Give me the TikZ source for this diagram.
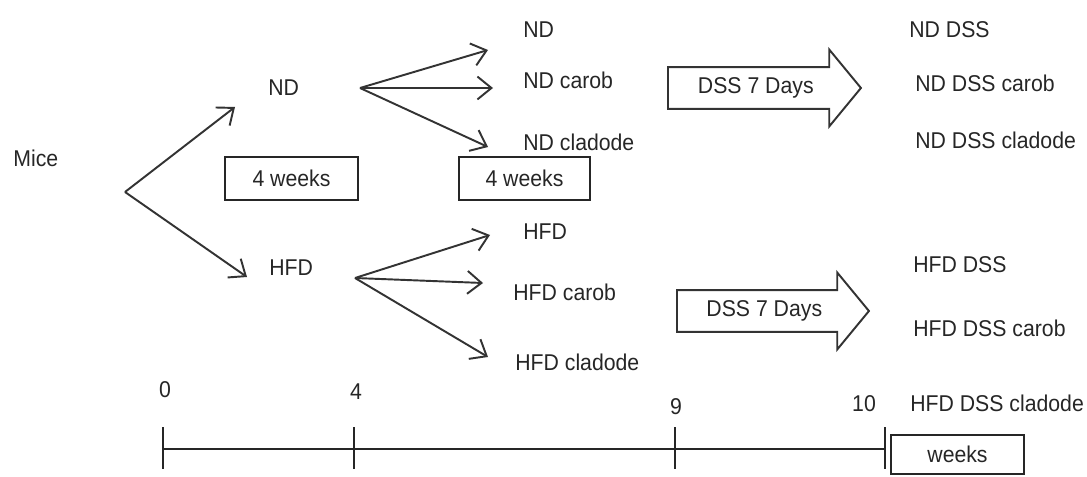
\documentclass[tikz,border=0pt]{standalone}
\usepackage{fontspec}
\setmainfont{Liberation Sans}[FakeStretch=0.93]
\usetikzlibrary{positioning,arrows.meta,shapes.arrows}

\begin{document}
\begin{tikzpicture}[x=0.02cm,y=-0.02cm,
	>={Straight Barb[length=8pt,width=13pt]},
	every node/.style={font=\fontsize{13}{15}\selectfont,text=black!85},
	lbl/.style={anchor=west,inner sep=0pt},
	wkbox/.style={draw=black!85,line width=1.1pt,inner sep=0pt},
	dssarrow/.style={single arrow,draw=black!80,line width=1.1pt,anchor=tail,
		single arrow head extend=0.35cm,single arrow tip angle=101,
		text height=0.33cm,text depth=0.1cm,inner ysep=0.185cm,inner xsep=0pt},
	link/.style={->,line width=1.1pt,draw=black!80}]
	\useasboundingbox (0,0) rectangle (1087,476);

	% groups
	\node[lbl] (mice) at (13,158) {Mice};
	\node[lbl] (nd)   at (268,88) {ND};
	\node[lbl] (hfd)  at (269,268) {HFD};

	\node[lbl] (ndnd)     at (523,30)  {ND};
	\node[lbl] (ndcarob)  at (523,80)  {ND carob};
	\node[lbl] (ndclad)   at (523,142) {ND cladode};
	\node[lbl] (hfdhfd)   at (523,232) {HFD};
	\node[lbl] (hfdcarob) at (513,292) {HFD carob};
	\node[lbl] (hfdclad)  at (515,362) {HFD cladode};

	\node[lbl] (nddss)      at (909,30)  {ND DSS};
	\node[lbl] (nddsscarob) at (915,83)  {ND DSS carob};
	\node[lbl] (nddssclad)  at (915,140) {ND DSS cladode};
	\node[lbl] (hfddss)      at (913,265) {HFD DSS};
	\node[lbl] (hfddsscarob) at (913,328) {HFD DSS carob};
	\node[lbl] (hfddssclad)  at (910,403) {HFD DSS cladode};

	% durations
	\node[wkbox,minimum width=2.66cm,minimum height=0.86cm] (wkA) at (291.5,178.5) {4 weeks};
	\node[wkbox,minimum width=2.62cm,minimum height=0.86cm] (wkB) at (524.5,178.5) {4 weeks};
	\node[dssarrow,minimum height=3.86cm] (dssA) at (667,88)  {DSS 7 Days};
	\node[dssarrow,minimum height=3.84cm] (dssB) at (676,311) {DSS 7 Days};

	% branching
	\coordinate (fork)   at (125,192);
	\coordinate (toND)   at (235,107);
	\coordinate (toHFD)  at (247,277);
	\coordinate (forkND) at (360,88);
	\coordinate (toNDa)  at (488,50);
	\coordinate (toNDb)  at (493,88);
	\coordinate (toNDc)  at (488,147);
	\coordinate (forkHFD) at (355,278);
	\coordinate (toHFDa) at (490,235);
	\coordinate (toHFDb) at (483,283);
	\coordinate (toHFDc) at (488,357);

	\draw[link] (fork) -- (toND);
	\draw[link] (fork) -- (toHFD);
	\draw[link] (forkND) -- (toNDa);
	\draw[link] (forkND) -- (toNDb);
	\draw[link] (forkND) -- (toNDc);
	\draw[link] (forkHFD) -- (toHFDa);
	\draw[link] (forkHFD) -- (toHFDb);
	\draw[link] (forkHFD) -- (toHFDc);

	% time axis
	\coordinate (t0)  at (163,449);
	\coordinate (t10) at (885,449);
	\draw[line width=1.3pt,black!85] (t0) -- (t10);
	\foreach \x/\lx/\ly/\wk in {163/165/390/0, 354/356/392/4, 675/676/407/9, 885/864/404/10}{
		\draw[line width=1.1pt,black!85] (\x,427) -- (\x,469);
		\node[inner sep=0pt] (wk\wk) at (\lx,\ly) {\wk};
	}
	\node[wkbox,minimum width=2.66cm,minimum height=0.78cm] (unit) at (957.5,454.5) {weeks};
\end{tikzpicture}
\end{document}
